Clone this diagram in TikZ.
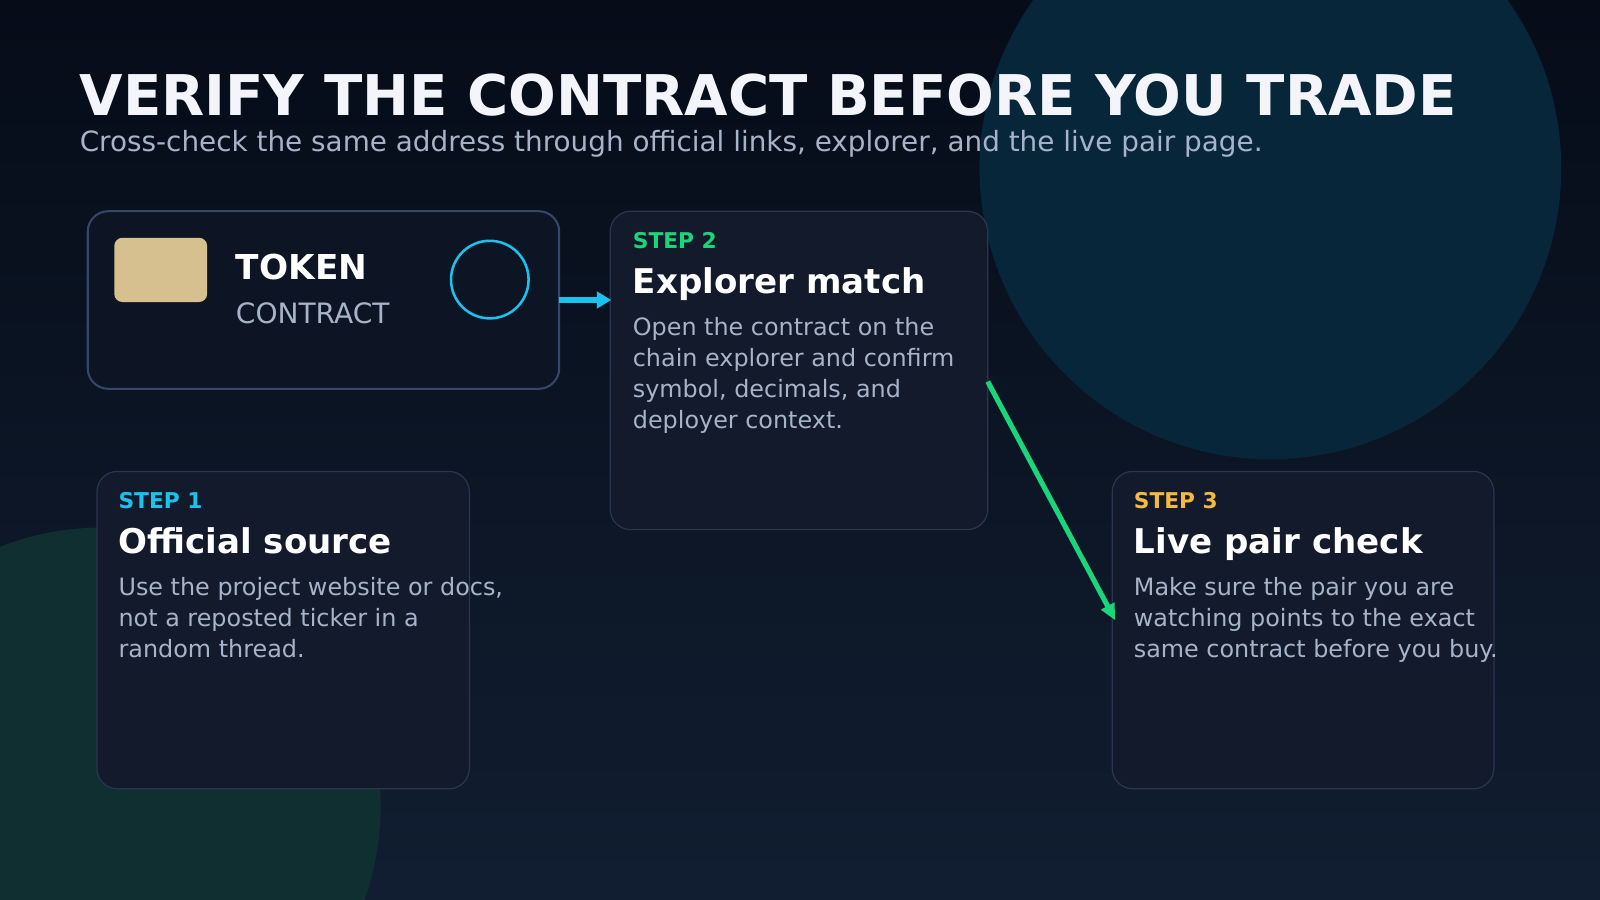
\documentclass[tikz,border=0pt]{standalone}
\usepackage{fontspec}
\setmainfont{DejaVu Sans}
\usetikzlibrary{arrows.meta}
\definecolor{bgtop}{HTML}{060C18}
\definecolor{bgbot}{HTML}{111E31}
\definecolor{circA}{HTML}{08263A}
\definecolor{circB}{HTML}{0F2F30}
\definecolor{boxfill}{HTML}{131A2C}
\definecolor{boxline}{HTML}{2A3650}
\definecolor{tokfill}{HTML}{0D1525}
\definecolor{tokline}{HTML}{34486A}
\definecolor{tan}{HTML}{D6C08F}
\definecolor{cyanc}{HTML}{19C3EE}
\definecolor{greenc}{HTML}{19D67A}
\definecolor{amber}{HTML}{F4B942}
\definecolor{bodyc}{HTML}{A7B3C8}
\definecolor{titlec}{HTML}{F3F5FA}
\tikzset{
 card/.style={draw=boxline,line width=1.2pt,fill=boxfill,rounded corners=20pt},
 steplbl/.style={anchor=base west,inner sep=0,font=\fontsize{21.3}{24}\selectfont\bfseries},
 head/.style={anchor=base west,inner sep=0,text=white,font=\fontsize{33.4}{38}\selectfont\bfseries},
 body/.style={anchor=north west,inner sep=0,text=bodyc,align=left,font=\fontsize{23.4}{30.4}\selectfont},
}
\begin{document}
\begin{tikzpicture}[x=1pt,y=-1pt]
\shade[top color=bgtop,bottom color=bgbot] (0,0) rectangle (1568,882);
\useasboundingbox (0,0) rectangle (1568,882);
\fill[circA] (1245,165) circle (285);
\begin{scope}
\clip (0,0) rectangle (1568,882);
\fill[circB] (100,790) circle (273);
\end{scope}
\node[anchor=base west,inner sep=0,text=titlec,font=\fontsize{55}{60}\selectfont\bfseries] (title) at (78,113) {VERIFY THE CONTRACT BEFORE YOU TRADE};
\node[anchor=base west,inner sep=0,text=bodyc,font=\fontsize{27.3}{30}\selectfont] (sub) at (78,148) {Cross-check the same address through official links, explorer, and the live pair page.};
% token box
\draw[draw=tokline,line width=2pt,fill=tokfill,rounded corners=20pt] (86,207) rectangle (548,381);
\coordinate (tokR) at (548,294);
\fill[tan,rounded corners=8pt] (112,233) rectangle (203,296);
\node[anchor=base west,inner sep=0,text=white,font=\fontsize{33.6}{38}\selectfont\bfseries] (tok) at (231,274) {TOKEN};
\node[anchor=base west,inner sep=0,text=bodyc,font=\fontsize{27.5}{30}\selectfont] (con) at (231,317) {CONTRACT};
\draw[cyanc,line width=2.5pt] (480,274) circle (38);
% step 2
\draw[card] (598,207) rectangle (968,519);
\coordinate (s2L) at (599,294);
\coordinate (s2R) at (968,374);
\node[steplbl,text=greenc] (l2) at (620,244) {STEP 2};
\node[head] (h2) at (620,288) {Explorer match};
\node[body] (b2) at (620,311) {Open the contract on the\\chain explorer and confirm\\symbol, decimals, and\\deployer context.};
% step 1
\draw[card] (95,462) rectangle (460,773);
\node[steplbl,text=cyanc] (l1) at (116,498) {STEP 1};
\node[head] (h1) at (116,542) {Official source};
\node[body] (b1) at (116,566) {Use the project website or docs,\\not a reposted ticker in a\\random thread.};
% step 3
\draw[card] (1090,462) rectangle (1464,773);
\coordinate (s3L) at (1093,608);
\node[steplbl,text=amber] (l3) at (1111,498) {STEP 3};
\node[head] (h3) at (1111,542) {Live pair check};
\node[body] (b3) at (1111,566) {Make sure the pair you are\\watching points to the exact\\same contract before you buy.};
% arrows
\draw[cyanc,line width=6pt,-{Triangle[length=14pt,width=16pt]}] (tokR) -- (s2L);
\draw[greenc,line width=5pt,-{Triangle[length=16pt,width=14pt]}] (s2R) -- (s3L);
\end{tikzpicture}
\end{document}
